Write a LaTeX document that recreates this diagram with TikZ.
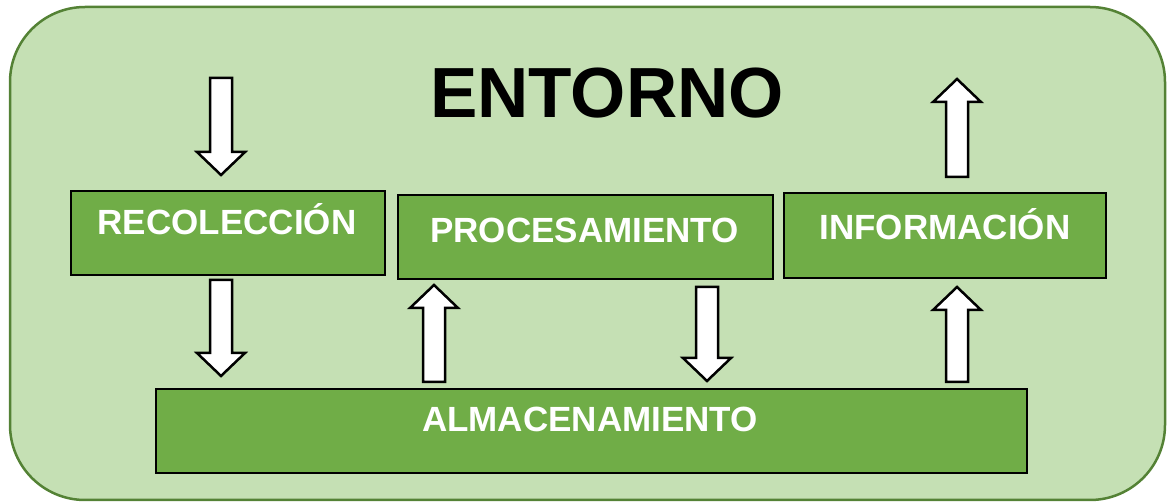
\documentclass[tikz,border=0pt]{standalone}
\usepackage{fontspec}
\setmainfont{Liberation Sans}
\definecolor{fondo}{HTML}{C5E0B4}
\definecolor{borde}{HTML}{548235}
\definecolor{verde}{HTML}{70AD47}
% block arrow: x, tail y, tip y
\newcommand{\flecha}[3]{%
  \pgfmathsetmacro\hb{#3-23*sign(#3-#2)}
  \draw[flechastyle] (#1-11,#2) -- (#1-11,\hb) -- (#1-24,\hb) -- (#1,#3) -- (#1+24,\hb) -- (#1+11,\hb) -- (#1+11,#2) -- cycle;}
\begin{document}
\begin{tikzpicture}[x=1pt,y=-1pt,
  box/.style={draw=black,line width=2.5pt,fill=verde,inner sep=0pt},
  boxtext/.style={text=white,font=\fontsize{35}{35}\selectfont\bfseries,anchor=base,inner sep=0pt},
  flechastyle/.style={draw=black,line width=2.5pt,fill=white,line join=miter}]
\useasboundingbox (0,0) rectangle (1168,502);
\draw [fill=fondo,draw=borde,line width=2.5pt,rounded corners=75pt] (10,7) rectangle (1165,500);
\node [font=\fontsize{71}{71}\selectfont\bfseries,anchor=base,inner sep=0pt] (entorno) at (607,118) {ENTORNO};
\node [box,minimum width=314pt,minimum height=84pt] (recol) at (228,233) {};
\node [box,minimum width=375pt,minimum height=84pt] (proc) at (585.5,237) {};
\node [box,minimum width=322pt,minimum height=85pt] (info) at (945,235.5) {};
\node [box,minimum width=871pt,minimum height=84pt] (alma) at (591.5,431) {};
\node [boxtext] (recoltxt) at (227,235) {RECOLECCIÓN};
\node [boxtext] (proctxt) at (584.5,243) {PROCESAMIENTO};
\node [boxtext] (infotxt) at (945,240) {INFORMACIÓN};
\node [boxtext] (almatxt) at (590,432) {ALMACENAMIENTO};
\flecha{221}{78}{175}
\flecha{221}{280}{376}
\flecha{434}{382}{285}
\flecha{707}{287}{381}
\flecha{957}{382}{287}
\flecha{957}{177}{79}
\end{tikzpicture}
\end{document}
